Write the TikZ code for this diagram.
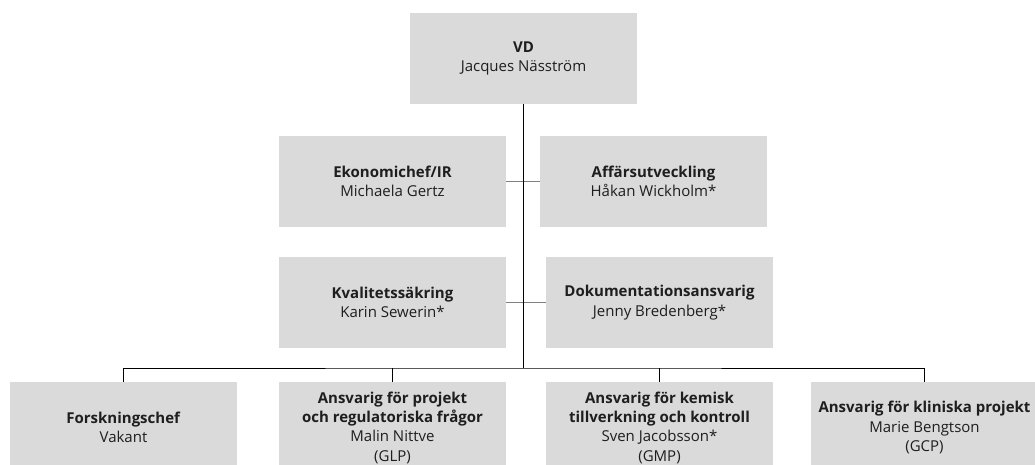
\documentclass[tikz,border=0pt]{standalone}
\usepackage{fontspec}
\setmainfont{Open Sans}
\definecolor{boxgray}{HTML}{DADADA}
\definecolor{linkgray}{HTML}{808080}
\definecolor{textdark}{HTML}{1E1E1E}
\begin{document}
\begin{tikzpicture}[x=1pt,y=-1pt,
  orgbox/.style={fill=boxgray, minimum width=227pt, minimum height=91pt, inner sep=0pt,
    align=center, text=textdark, font=\fontsize{15}{19.3}\selectfont},
  mainline/.style={draw=black, line width=0.9pt},
  sideline/.style={draw=linkgray, line width=1.5pt}]
\clip (0,0) rectangle (1035,465);
\fill[white] (0,0) rectangle (1035,465);
\node[orgbox] (vd) at (523.5,58.5) {\textbf{VD}\\Jacques Näsström};
\node[orgbox] (eko) at (392.5,181.5) {\textbf{Ekonomichef/IR}\\Michaela Gertz};
\node[orgbox] (aff) at (653.5,181.5) {\textbf{Affärsutveckling}\\Håkan Wickholm*};
\node[orgbox] (kval) at (392.5,302.5) {\textbf{Kvalitetssäkring}\\Karin Sewerin*};
\node[orgbox] (dok) at (659.5,302.5) {\textbf{Dokumentationsansvarig}\\Jenny Bredenberg*};
\node[orgbox] (forsk) at (123.5,427.5) {\textbf{Forskningschef}\\Vakant};
\node[orgbox] (proj) at (392.5,427.5) {\textbf{Ansvarig för projekt}\\\textbf{och regulatoriska frågor}\\Malin Nittve\\(GLP)};
\node[orgbox] (kem) at (659.5,427.5) {\textbf{Ansvarig för kemisk}\\\textbf{tillverkning och kontroll}\\Sven Jacobsson*\\(GMP)};
\node[orgbox] (klin) at (924.5,427.5) {\textbf{Ansvarig för kliniska projekt}\\Marie Bengtson\\(GCP)};
\coordinate (bus) at (523,368);
\draw[sideline] (eko.east) -- (aff.west);
\draw[sideline] (kval.east) -- (dok.west);
\draw[mainline] (vd.south -| bus) -- (bus);
\draw[mainline] (forsk.north) |- (bus) -| (klin.north);
\draw[mainline] (proj.north) -- (proj.north |- bus);
\draw[mainline] (kem.north) -- (kem.north |- bus);
\end{tikzpicture}
\end{document}
